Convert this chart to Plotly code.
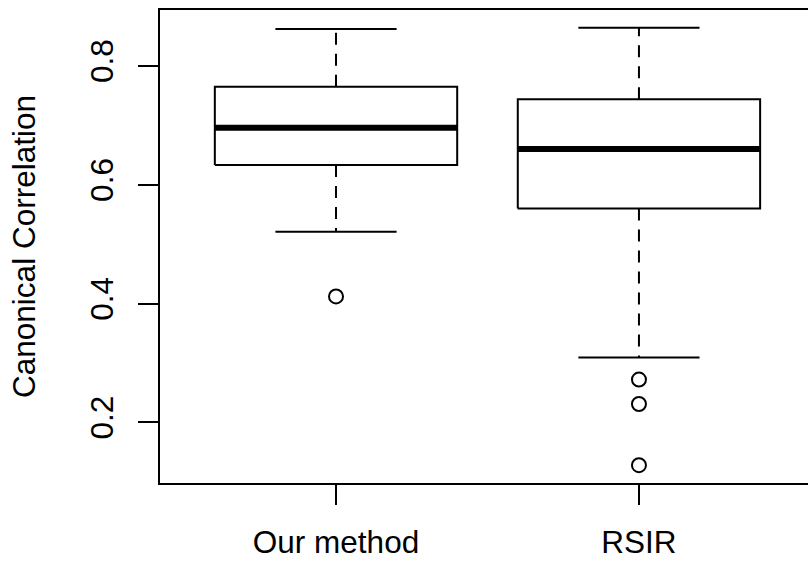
import plotly.graph_objects as go

# Summary statistics for each method (five-number summary plus outliers)
methods = ["Our method", "RSIR"]
upper_whisker = [0.862, 0.864]
q3 = [0.765, 0.744]
median = [0.696, 0.660]
q1 = [0.633, 0.560]
lower_whisker = [0.521, 0.309]
outliers = [[0.412], [0.272, 0.231, 0.128]]

BOX_HALF = 0.4
CAP_HALF = 0.2
FONT = "Liberation Sans, Arial, Helvetica, sans-serif"
FS = 31.5

fig = go.Figure()

for i, name in enumerate(methods):
    xc = i + 1
    # box outline
    fig.add_trace(go.Scatter(
        x=[xc - BOX_HALF, xc + BOX_HALF, xc + BOX_HALF, xc - BOX_HALF, xc - BOX_HALF],
        y=[q1[i], q1[i], q3[i], q3[i], q1[i]],
        mode="lines", line=dict(color="black", width=2),
        showlegend=False, hoverinfo="skip"))
    # median bar
    fig.add_trace(go.Scatter(
        x=[xc - BOX_HALF, xc + BOX_HALF], y=[median[i], median[i]],
        mode="lines", line=dict(color="black", width=6),
        showlegend=False, hoverinfo="skip"))
    # dashed whiskers
    for a, b in [(q3[i], upper_whisker[i]), (q1[i], lower_whisker[i])]:
        fig.add_trace(go.Scatter(
            x=[xc, xc], y=[a, b], mode="lines",
            line=dict(color="black", width=2, dash="12px,9px"),
            showlegend=False, hoverinfo="skip"))
    # whisker caps
    for v in [upper_whisker[i], lower_whisker[i]]:
        fig.add_trace(go.Scatter(
            x=[xc - CAP_HALF, xc + CAP_HALF], y=[v, v], mode="lines",
            line=dict(color="black", width=2),
            showlegend=False, hoverinfo="skip"))
    # outliers
    fig.add_trace(go.Scatter(
        x=[xc] * len(outliers[i]), y=outliers[i], mode="markers",
        marker=dict(symbol="circle-open", size=14, color="black",
                    line=dict(width=2, color="black")),
        showlegend=False, hoverinfo="skip"))

fig.update_layout(
    width=808, height=563,
    margin=dict(l=160, r=0, t=10, b=80),
    paper_bgcolor="white", plot_bgcolor="white",
    font=dict(family=FONT, size=FS, color="black"),
)
fig.update_xaxes(
    range=[0.419, 2.558], tickmode="array", tickvals=[1, 2], ticktext=methods,
    showline=True, linecolor="black", linewidth=2, mirror=True,
    ticks="outside", ticklen=20, tickwidth=2, tickcolor="black",
    ticklabelstandoff=10,
    showgrid=False, zeroline=False, tickfont=dict(size=FS),
)
fig.update_yaxes(
    range=[0.098, 0.894], tickmode="array", tickvals=[0.2, 0.4, 0.6, 0.8],
    ticktext=["0.2", "0.4", "0.6", "0.8"], tickangle=-90,
    showline=True, linecolor="black", linewidth=2, mirror=False,
    ticks="outside", ticklen=20, tickwidth=2, tickcolor="black",
    ticklabelstandoff=12,
    showgrid=False, zeroline=False, tickfont=dict(size=FS),
    title=dict(text="Canonical Correlation", font=dict(size=FS), standoff=39),
)

fig.write_html("out.html")
